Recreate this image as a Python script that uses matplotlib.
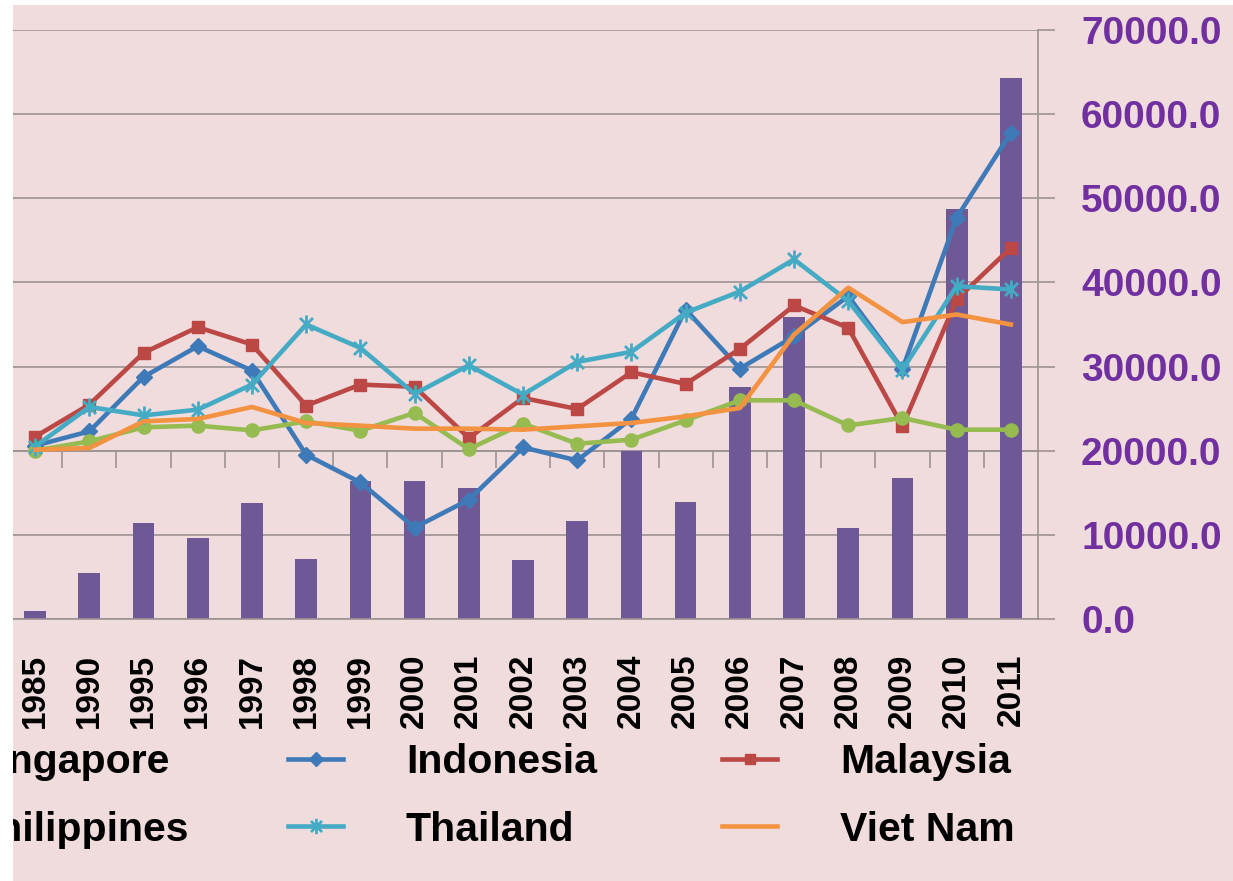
import matplotlib
matplotlib.use('Agg')
import matplotlib.pyplot as plt
import numpy as np
from matplotlib.patches import Rectangle
from matplotlib.path import Path

# ---------------- data ----------------
years = ['1985', '1990', '1995', '1996', '1997', '1998', '1999', '2000', '2001',
         '2002', '2003', '2004', '2005', '2006', '2007', '2008', '2009', '2010', '2011']
singapore = [900, 5510, 11460, 9600, 13770, 7180, 16460, 16460, 15560, 7020,
             11630, 19920, 13930, 27580, 35870, 10830, 16790, 48690, 64250]
indonesia = [300, 1150, 4385, 6210, 4760, -238, -1885, -4565, -2916, 196,
             -577, 1905, 8390, 4880, 6800, 9185, 4850, 13850, 18900]
malaysia = [833, 2740, 5815, 7340, 6310, 2680, 3930, 3800, 755, 3135,
            2480, 4660, 3970, 6050, 8630, 7300, 1450, 8990, 12060]
philippines = [12, 555, 1390, 1490, 1210, 1745, 1190, 2245, 100, 1607,
               417, 655, 1805, 2995, 2995, 1505, 1945, 1250, 1250]
thailand = [250, 2600, 2100, 2440, 3930, 7500, 6110, 3375, 5080, 3335,
            5280, 5875, 8200, 9460, 11370, 8890, 4820, 9780, 9580]
vietnam = [60, 160, 1745, 1885, 2600, 1650, 1490, 1310, 1310, 1250,
           1450, 1650, 2040, 2540, 6900, 9690, 7640, 8095, 7500]
right_ticks = [0, 10000, 20000, 30000, 40000, 50000, 60000, 70000]

# ---------------- style ----------------
BG = '#F0DBDD'
GRID = '#9C9294'
BAR = '#6F5896'
C_IND = '#3F7AB8'
C_MAL = '#BB4845'
C_PHI = '#96BB50'
C_THA = '#45ABC4'
C_VN = '#F39341'
PURPLE = '#7030A0'
FONT = 'Liberation Sans'

W, H = 1233, 881
fig = plt.figure(figsize=(W / 100, H / 100), dpi=100, facecolor=BG)
ax = fig.add_axes([8 / W, 1 - 619 / H, 1030 / W, 589 / H])
ax.set_facecolor(BG)
ax2 = ax.twinx()

x = np.arange(len(years))
bars = ax.bar(x, singapore, width=0.40, color=BAR, zorder=2, label='Singapore')
ax.set_xlim(-0.5, len(years) - 0.5)
ax.set_ylim(0, 70000)

ax.yaxis.tick_right()
ax.yaxis.set_label_position('right')
ax.set_yticks(right_ticks)
ax.set_yticklabels([f'{v:.1f}' for v in right_ticks])
ax.tick_params(axis='y', which='both', right=True, left=False, labelright=True, labelleft=False,
               direction='out', length=12, width=1.2, color=GRID,
               pad=19, labelsize=28, labelcolor=PURPLE)
for lab in ax.get_yticklabels():
    lab.set_fontweight('bold')
    lab.set_family(FONT)
ax.yaxis.grid(True, color=GRID, lw=1.2)
ax.set_axisbelow(True)

ax.set_xticks(x)
ax.set_xticklabels(years, rotation=90)
ax.tick_params(axis='x', length=0, pad=25, labelsize=24)
for lab in ax.get_xticklabels():
    lab.set_fontweight('bold')
    lab.set_family(FONT)

for s in ['top', 'left']:
    ax.spines[s].set_visible(False)
for s in ['right', 'bottom']:
    ax.spines[s].set_color(GRID)
    ax.spines[s].set_linewidth(1.2)

# category axis crossing the line axis at zero (2/7 of the height)
sec = ax.secondary_xaxis(2 / 7)
sec.set_xticks(np.arange(-0.5, len(years) - 1, 1.0))
sec.tick_params(direction='out', length=12, width=1.2, color=GRID,
                labelbottom=False, labeltop=False)
for s in sec.spines.values():
    s.set_color(GRID)
    s.set_linewidth(1.2)

# ---------------- lines on primary axis ----------------
ax2.set_ylim(-10000, 25000)
ax2.set_yticks([])
ax2.tick_params(axis='y', left=False, right=False, labelleft=False, labelright=False)
for s in ax2.spines.values():
    s.set_visible(False)

star = Path([(0, -1), (0, 1), (-0.72, -0.72), (0.72, 0.72), (-0.72, 0.72), (0.72, -0.72)],
            [Path.MOVETO, Path.LINETO, Path.MOVETO, Path.LINETO, Path.MOVETO, Path.LINETO])

lw = 3.3
l_ind, = ax2.plot(x, indonesia, color=C_IND, lw=lw, marker='D', ms=8, mec=C_IND, mfc=C_IND, label='Indonesia')
l_mal, = ax2.plot(x, malaysia, color=C_MAL, lw=lw, marker='s', ms=9, mec=C_MAL, mfc=C_MAL, label='Malaysia')
l_phi, = ax2.plot(x, philippines, color=C_PHI, lw=lw, marker='o', ms=9.5, mec=C_PHI, mfc=C_PHI, label='Philippines')
l_tha, = ax2.plot(x, thailand, color=C_THA, lw=lw, marker=star, ms=13, mew=2.0, mec=C_THA, label='Thailand')
l_vn, = ax2.plot(x, vietnam, color=C_VN, lw=lw, label='Viet Nam')

# ---------------- legend ----------------
fs = 29.5
em = fs * 100 / 72
prop = dict(family=FONT, weight='bold', size=fs)
common = dict(frameon=False, prop=prop, handlelength=55 / em, handletextpad=63 / em,
              columnspacing=125 / em, labelspacing=0.72, borderpad=0, borderaxespad=0,
              loc='center left', bbox_transform=fig.transFigure, markerscale=0.85)
fig.legend(handles=[l_ind, l_tha, l_mal, l_vn], ncol=2,
           bbox_to_anchor=(288 / W, 1 - 796 / H), **common)
fig.legend(handles=[bars, l_phi], ncol=1,
           bbox_to_anchor=(-148 / W, 1 - 796 / H), **common)

# white borders of the screenshot
fig.add_artist(Rectangle((0, 0), 13 / W, 1, transform=fig.transFigure,
                         facecolor='white', edgecolor='none', zorder=100))
fig.add_artist(Rectangle((0, 1 - 5 / H), 1, 5 / H, transform=fig.transFigure,
                         facecolor='white', edgecolor='none', zorder=100))

fig.savefig('out.png', dpi=100, facecolor=BG)
